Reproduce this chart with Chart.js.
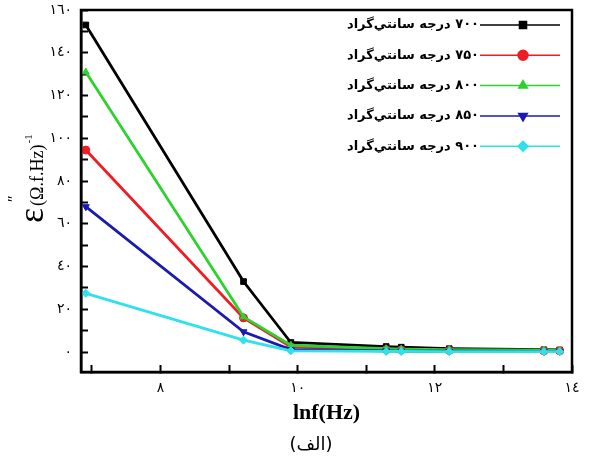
<!DOCTYPE html>
<html>
<head>
<meta charset="utf-8">
<script src="https://cdn.jsdelivr.net/npm/chart.js@4.4.1/dist/chart.umd.min.js"></script>
<style>
  html, body { margin: 0; padding: 0; background: #fff; }
  #wrap { width: 596px; height: 464px; }
</style>
</head>
<body>
<div id="wrap"><canvas id="lineChart"></canvas></div>
<script>
// ln f values (1 kHz ... 1 MHz)
var lnf = [6.91, 9.21, 9.90, 11.29, 11.51, 12.21, 13.59, 13.82];
var e700 = [153, 33, 4.5, 2.6, 2.3, 1.6, 1.1, 1.0];
var e750 = [94.5, 16, 2.5, 1.2, 1.0, 0.8, 0.6, 0.6];
var e800 = [131, 16.5, 3.2, 1.6, 1.4, 1.1, 0.9, 0.8];
var e850 = [68, 9.5, 1.2, 0.6, 0.5, 0.4, 0.3, 0.3];
var e900 = [27.5, 5.6, 0.6, 0.3, 0.3, 0.2, 0.2, 0.2];
var seriesNames = ['۷۰۰ درجه سانتي‌گراد', '۷۵۰ درجه سانتي‌گراد', '۸۰۰ درجه سانتي‌گراد', '۸۵۰ درجه سانتي‌گراد', '۹۰۰ درجه سانتي‌گراد'];
var yLabels = [0, 20, 40, 60, 80, 100, 120, 140, 160];
var xLabels = [8, 10, 12, 14];

function toAr(n) {
    var d = '٠١٢٣٤٥٦٧٨٩';
    return String(n).replace(/[0-9]/g, function (c) { return d[+c]; });
}
function pts(vals) {
    return lnf.map(function (x, i) { return {x: x, y: vals[i]}; });
}
function makeSet(label, vals, color, style, rot, order) {
    return {
        label: label,
        data: pts(vals),
        borderColor: color,
        backgroundColor: color,
        pointBackgroundColor: color,
        pointBorderColor: color,
        pointStyle: style,
        pointRotation: rot,
        pointRadius: 4,
        pointBorderWidth: 1,
        borderWidth: 2.8,
        order: order
    };
}

var frame = {
    id: 'frame',
    afterDraw: function (chart) {
        var ctx = chart.ctx, a = chart.chartArea;
        ctx.save();
        ctx.strokeStyle = '#000';
        ctx.lineWidth = 2.5;
        ctx.strokeRect(a.left, a.top, a.right - a.left, a.bottom - a.top);
        ctx.restore();
    }
};

var legendBox = {
    id: 'legendBox',
    afterDraw: function (chart) {
        var ctx = chart.ctx, a = chart.chartArea;
        chart.data.datasets.forEach(function (ds, i) {
            var y = a.top + 15 + i * 30.3;
            var x0 = a.right - 92, x1 = a.right - 12;
            ctx.save();
            ctx.strokeStyle = ds.borderColor;
            ctx.fillStyle = ds.borderColor;
            ctx.lineWidth = 1.5;
            ctx.beginPath();
            ctx.moveTo(x0, y);
            ctx.lineTo(x1, y);
            ctx.stroke();
            Chart.helpers.drawPoint(ctx, {pointStyle: ds.pointStyle, rotation: ds.pointRotation, radius: 5, borderWidth: 1}, (x0 + x1) / 2 + 3, y);
            ctx.fillStyle = '#000';
            ctx.font = 'bold 13px "DejaVu Sans"';
            ctx.direction = 'rtl';
            ctx.textAlign = 'right';
            ctx.textBaseline = 'middle';
            ctx.fillText(seriesNames[i], x0 - 1, y);
            ctx.restore();
        });
    }
};

var yTitle = {
    id: 'yTitle',
    afterDraw: function (chart) {
        var ctx = chart.ctx;
        ctx.save();
        ctx.translate(43, 223);
        ctx.rotate(-Math.PI / 2);
        ctx.fillStyle = '#000';
        ctx.textAlign = 'left';
        ctx.textBaseline = 'alphabetic';
        ctx.font = '36px "Liberation Serif"';
        ctx.fillText('ε', 0, 0);
        var cx = ctx.measureText('ε').width;
        ctx.font = '16px "Liberation Serif"';
        ctx.fillText('″', cx + 6, -24);
        ctx.font = '18px "Liberation Serif"';
        ctx.fillText('(Ω.f.Hz)', cx + 2, 0);
        cx += 2 + ctx.measureText('(Ω.f.Hz)').width;
        ctx.font = '11px "Liberation Serif"';
        ctx.fillText('-1', cx + 1, -11);
        ctx.restore();
    }
};

var ctx = document.getElementById('lineChart').getContext('2d');
new Chart(ctx, {
    type: 'line',
    data: {
        datasets: [
            makeSet(seriesNames[0], e700, '#000000', 'rect', 0, 4),
            makeSet(seriesNames[1], e750, '#ee1c24', 'circle', 0, 3),
            makeSet(seriesNames[2], e800, '#2ed12e', 'triangle', 0, 2),
            makeSet(seriesNames[3], e850, '#1a1ab0', 'triangle', 180, 1),
            makeSet(seriesNames[4], e900, '#30e0ea', 'rectRot', 0, 0)
        ]
    },
    options: {
        responsive: true,
        maintainAspectRatio: false,
        animation: false,
        layout: {padding: {left: 50, right: 24, top: 10, bottom: 0}},
        plugins: {
            legend: {display: false},
            tooltip: {enabled: false},
            title: {
                display: true,
                position: 'bottom',
                text: '(الف)',
                color: '#000',
                font: {family: 'DejaVu Sans', size: 18, weight: 'normal'},
                padding: {top: 6, bottom: 8}
            }
        },
        scales: {
            x: {
                type: 'linear',
                min: 6.84,
                max: 14,
                afterFit: function (s) { s.height = 56.4; },
                border: {display: true, color: '#000', width: 2.5},
                grid: {drawOnChartArea: false, drawTicks: true, tickLength: -7, tickColor: '#000', tickWidth: 2},
                ticks: {
                    stepSize: 1,
                    includeBounds: false,
                    autoSkip: false,
                    maxRotation: 0,
                    padding: 15,
                    color: '#000',
                    font: {family: 'DejaVu Sans', size: 14},
                    callback: function (v) { return xLabels.indexOf(v) >= 0 ? toAr(v) : ''; }
                },
                title: {
                    display: true,
                    text: 'lnf(Hz)',
                    color: '#000',
                    font: {family: 'Liberation Serif', size: 22, weight: 'bold'},
                    padding: {top: 0, bottom: 2}
                }
            },
            y: {
                type: 'linear',
                min: -9.3,
                max: 160,
                afterFit: function (s) { s.width = 31; s.paddingTop = 0; s.paddingBottom = 0; },
                border: {display: true, color: '#000', width: 2.5},
                grid: {drawOnChartArea: false, drawTicks: true, tickLength: -7, tickColor: '#000', tickWidth: 2},
                ticks: {
                    stepSize: 10,
                    includeBounds: false,
                    autoSkip: false,
                    padding: 16,
                    color: '#000',
                    font: {family: 'DejaVu Sans', size: 14},
                    callback: function (v) { return yLabels.indexOf(v) >= 0 ? toAr(v) : ''; }
                }
            }
        }
    },
    plugins: [frame, legendBox, yTitle]
});
</script>
</body>
</html>
